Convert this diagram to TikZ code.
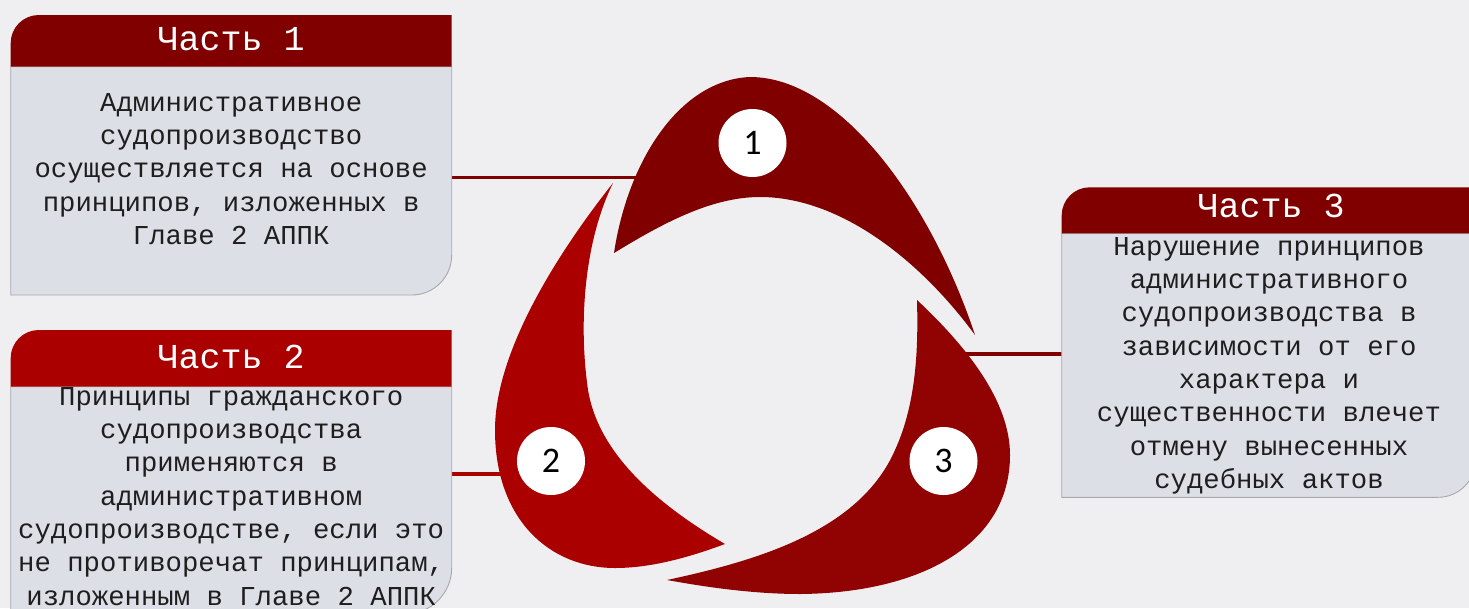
\documentclass[tikz,border=0pt]{standalone}
\usepackage{fontspec}
\setmainfont{Liberation Mono}
\newfontfamily\monofont{Liberation Mono}
\newfontfamily\numfont{Carlito}
\definecolor{bg}{HTML}{EFEFF2}
\definecolor{bodyfill}{HTML}{DDDFE6}
\definecolor{bordergray}{HTML}{A8A8AC}
\definecolor{cone}{HTML}{800000}
\definecolor{ctwo}{HTML}{AA0000}
\definecolor{cthree}{HTML}{910303}
\definecolor{txt}{HTML}{1E1E1E}
\begin{document}
\begin{tikzpicture}[x=1pt,y=-1pt,
  bodytext/.style={align=center, inner sep=0pt, anchor=north, text=txt,
    font=\monofont\fontsize{27.3}{33.3}\selectfont},
  titletext/.style={anchor=base, inner sep=0pt, text=white,
    font=\monofont\fontsize{35}{40}\selectfont},
  numcircle/.style={circle, fill=white, minimum size=68pt, inner sep=0pt,
    font=\numfont\fontsize{36}{40}\selectfont, text=black},
  conn/.style={line width=3.3pt},
  boxborder/.style={draw=bordergray, line width=0.9pt}
]
\useasboundingbox (0,0) rectangle (1469,608);
\fill[bg] (0,0) rectangle (1469,608);

% connector coordinates
\coordinate (b1e) at (451.7,177.7);
\coordinate (s1w) at (642,177.7);
\coordinate (b2e) at (451.7,474);
\coordinate (s2w) at (506,474);
\coordinate (s3e) at (960,354);
\coordinate (b3w) at (1061.7,354);

\draw[conn,cone] (b1e) -- (s1w);
\draw[conn,ctwo] (b2e) -- (s2w);
\draw[conn,cone] (s3e) -- (b3w);

% segment 1 (top)
\fill[cone] (614,253) .. controls (628,160) and (680,80) .. (750,77)
  .. controls (840,77) and (930,200) .. (975,335)
  .. controls (920,260) and (840,197) .. (760,197)
  .. controls (710,197) and (660,225) .. (614,253) -- cycle;
% segment 2 (left)
\fill[ctwo] (613,183) .. controls (560,250) and (495,350) .. (495,430)
  .. controls (495,520) and (550,568) .. (615,568)
  .. controls (655,568) and (695,555) .. (725,544)
  .. controls (650,500) and (598,450) .. (588,390)
  .. controls (578,320) and (585,240) .. (613,183) -- cycle;
% segment 3 (right)
\fill[cthree] (917,300) .. controls (965,345) and (1010,400) .. (1010,455)
  .. controls (1010,545) and (920,593) .. (800,594)
  .. controls (750,594) and (700,586) .. (667,580)
  .. controls (760,560) and (860,530) .. (895,450)
  .. controls (918,400) and (918,340) .. (917,300) -- cycle;

\node[numcircle] (n1) at (752.5,143) {1};
\node[numcircle] (n2) at (551,461) {2};
\node[numcircle] (n3) at (943.5,461) {3};

% box 1
\filldraw[fill=bodyfill,boxborder] (10.7,66.7) -- (451.7,66.7) -- (451.7,255)
  .. controls (451.7,277) and (434,295) .. (411.7,295) -- (10.7,295) -- cycle;
\fill[cone] (10.7,66.7) -- (10.7,43) .. controls (10.7,27.6) and (23.3,15) .. (38.7,15)
  -- (451.7,15) -- (451.7,66.7) -- cycle;
\node[titletext] (h1) at (231.2,50) {Часть 1};
\node[bodytext] (t1) at (231.2,87.7) {\strut Административное\\судопроизводство\\осуществляется на основе\\принципов, изложенных в\\Главе 2 АППК};

% box 2
\filldraw[fill=bodyfill,boxborder] (10.7,386.7) -- (451.7,386.7) -- (451.7,568)
  .. controls (451.7,593) and (431,614) .. (405.7,614) -- (10.7,614) -- cycle;
\fill[ctwo] (10.7,386.7) -- (10.7,358) .. controls (10.7,342.6) and (23.3,330) .. (38.7,330)
  -- (451.7,330) -- (451.7,386.7) -- cycle;
\node[titletext] (h2) at (231.2,368) {Часть 2};
\node[bodytext] (t2) at (231.2,381.7) {\strut Принципы гражданского\\судопроизводства\\применяются в\\административном\\судопроизводстве, если это\\не противоречат принципам,\\изложенным в Главе 2 АППК};

% box 3
\filldraw[fill=bodyfill,boxborder] (1061.7,233.3) -- (1476,233.3) -- (1476,459)
  .. controls (1476,480) and (1459,497.3) .. (1438,497.3) -- (1061.7,497.3) -- cycle;
\fill[cone] (1061.7,233.3) -- (1061.7,215.3) .. controls (1061.7,199.9) and (1074.3,187.3) .. (1089.7,187.3)
  -- (1476,187.3) -- (1476,233.3) -- cycle;
\node[titletext] (h3) at (1271,217.3) {Часть 3};
\node[bodytext] (t3) at (1269,231.7) {\strut Нарушение принципов\\административного\\судопроизводства в\\зависимости от его\\характера и\\существенности влечет\\отмену вынесенных\\судебных актов};
\end{tikzpicture}
\end{document}
